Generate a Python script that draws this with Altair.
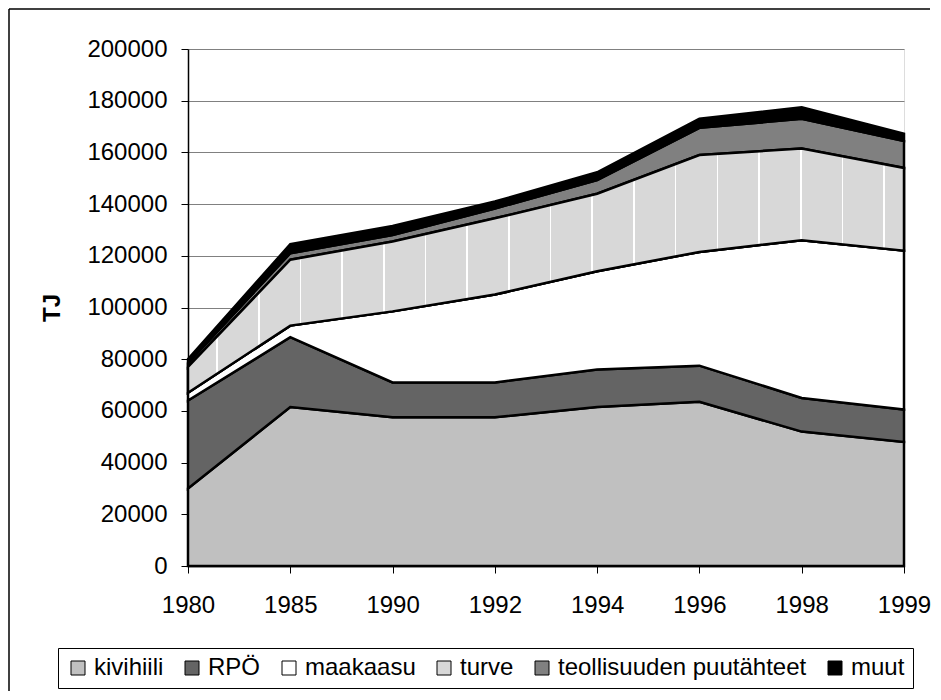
import altair as alt
import pandas as pd

years = ["1980", "1985", "1990", "1992", "1994", "1996", "1998", "1999"]
series_names = ["kivihiili", "RPÖ", "maakaasu", "turve", "teollisuuden puutähteet", "muut"]
kivihiili = [30000, 61500, 57500, 57500, 61500, 63500, 52000, 48000]
rpo = [34000, 27000, 13500, 13500, 14500, 14000, 13000, 12500]
maakaasu = [3000, 4500, 27500, 34000, 38000, 44000, 61000, 61500]
turve = [10000, 25500, 27000, 29500, 30000, 37500, 35500, 32000]
teollisuus = [1500, 2500, 2500, 3800, 5300, 10500, 11500, 10400]
muut = [1500, 3500, 3500, 2700, 3000, 3500, 4500, 2800]
colors = ["#c0c0c0", "#646464", "#ffffff", "#d8d8d8", "#808080", "#000000"]
y_ticks = list(range(0, 200001, 20000))

values = [kivihiili, rpo, maakaasu, turve, teollisuus, muut]
rows = []
for i, (name, vals) in enumerate(zip(series_names, values)):
    for yr, v in zip(years, vals):
        rows.append({"vuosi": yr, "sarja": name, "ord": i, "TJ": v})
df = pd.DataFrame(rows)

FONT = "Liberation Sans"
PLOT_W = 716

# light vertical streaks of the dotted "turve" fill pattern (style only)
stops = [alt.GradientStop(color="#d8d8d8", offset=0)]
pos = 29.0
while pos < PLOT_W - 2:
    a = (pos - 0.8) / PLOT_W
    b = (pos + 0.8) / PLOT_W
    stops += [alt.GradientStop(color="#d8d8d8", offset=a),
              alt.GradientStop(color="#ffffff", offset=a),
              alt.GradientStop(color="#ffffff", offset=b),
              alt.GradientStop(color="#d8d8d8", offset=b)]
    pos += 41.7
stops.append(alt.GradientStop(color="#d8d8d8", offset=1))
turve_fill = alt.Gradient(gradient="linear", x1=0, x2=1, y1=0, y2=0, stops=stops)

x_enc = alt.X("vuosi:O", sort=years,
              scale=alt.Scale(type="point", padding=0),
              axis=alt.Axis(title=None, labelAngle=0, labelFontSize=24, labelFont=FONT,
                            labelColor="black", tickColor="black", tickSize=7,
                            domainColor="black", domainWidth=1.5, labelPadding=20,
                            grid=False))

area = alt.Chart(df).mark_area(stroke="black", strokeWidth=2.5, opacity=1,
                               strokeJoin="miter").encode(
    x=x_enc,
    y=alt.Y("TJ:Q", stack="zero",
            scale=alt.Scale(domain=[0, 200000], nice=False),
            axis=alt.Axis(title="TJ", titleFontSize=24, titleFont=FONT, titleFontWeight="bold",
                          titleColor="black", titlePadding=22,
                          values=y_ticks, format="d", labelFontSize=24, labelFont=FONT,
                          labelColor="black", tickColor="black", tickSize=7,
                          domainColor="black", domainWidth=1.5, labelPadding=14,
                          grid=True, gridColor="#808080", gridWidth=1)),
    color=alt.Color("sarja:N",
                    scale=alt.Scale(domain=series_names, range=colors),
                    legend=alt.Legend(orient="none", legendX=-130, legendY=599,
                                      direction="horizontal", columns=6, title=None,
                                      symbolType="square", symbolSize=196,
                                      symbolStrokeColor="black", symbolStrokeWidth=1,
                                      symbolOpacity=1, labelLimit=0,
                                      labelFontSize=24, labelFont=FONT, labelColor="black",
                                      labelOffset=4, columnPadding=16,
                                      strokeColor="black", fillColor="white", padding=8)),
    order=alt.Order("ord:Q", sort="ascending"),
)

turve_layer = alt.Chart(df).transform_stack(
    stack="TJ", groupby=["vuosi"], as_=["y0", "y1"], sort=[alt.SortField("ord", order="ascending")]
).transform_filter(alt.datum.sarja == "turve").mark_area(
    fill=turve_fill, stroke="black", strokeWidth=2.5, strokeJoin="miter", opacity=1
).encode(x=alt.X("vuosi:O", sort=years), y=alt.Y("y1:Q"), y2="y0:Q")

frame_data = alt.Data(values=[{"a": 1}])
left = alt.Chart(frame_data).mark_rule(color="black", strokeWidth=1.5).encode(
    x=alt.value(-179), y=alt.value(-40), y2=alt.value(642))
top = alt.Chart(frame_data).mark_rule(color="black", strokeWidth=1.5).encode(
    x=alt.value(-179), x2=alt.value(742), y=alt.value(-40))

chart = alt.layer(area, turve_layer, left, top).properties(
    width=PLOT_W, height=517, padding=0
).configure_view(stroke="#808080", strokeWidth=1).configure(background="white")

chart.save("out.html", embed_options={"renderer": "svg", "actions": False})
